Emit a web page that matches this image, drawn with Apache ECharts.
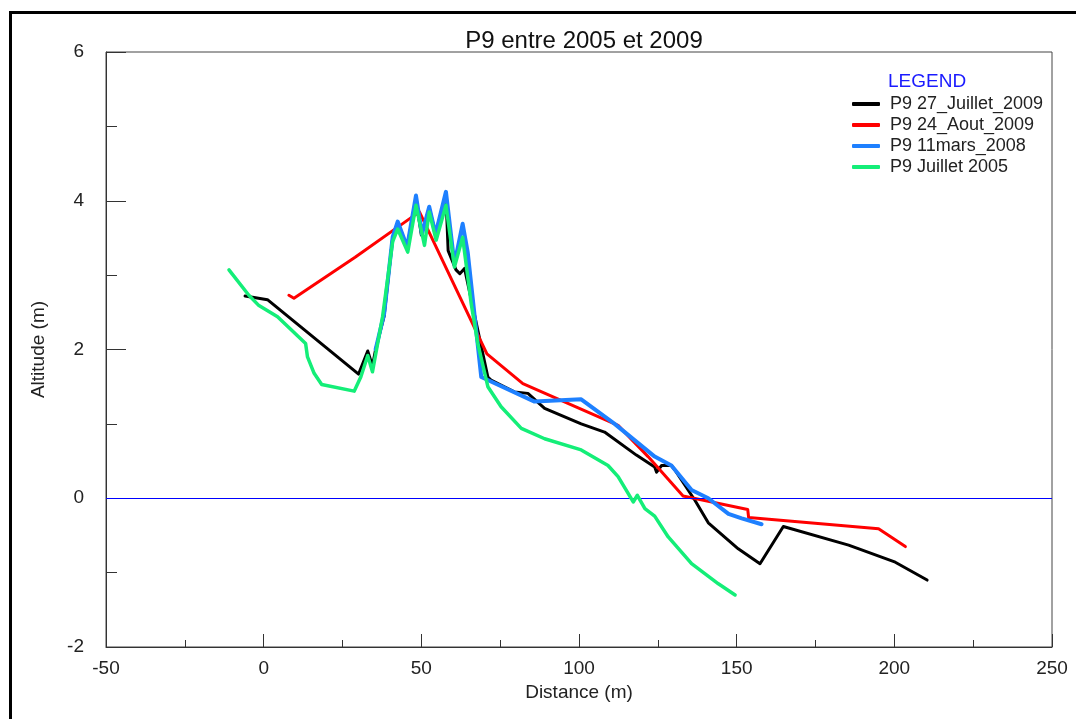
<!DOCTYPE html>
<html><head><meta charset="utf-8">
<script src="https://cdn.jsdelivr.net/npm/echarts@6/dist/echarts.min.js"></script>
<style>html,body{margin:0;padding:0;background:#fff}#c{width:1076px;height:719px}</style>
</head><body><div id="c"></div>
<script>
const seriesNames = ['P9 27_Juillet_2009', 'P9 24_Aout_2009', 'P9 11mars_2008', 'P9 Juillet 2005'];
const xTicks = [-50, 0, 50, 100, 150, 200, 250];
const yTicks = [-2, 0, 2, 4, 6];

const juillet2009 = [[-5.9,2.72],[1.2,2.67],[30.1,1.67],[33,1.98],[34.5,1.78],[35.5,2.0],[38.2,2.45],[40.9,3.5],[42.5,3.7],[45.5,3.38],[48.3,4.02],[50,3.54],[52.5,3.9],[54.5,3.56],[57.8,4.08],[58.5,3.33],[61,3.07],[62.2,3.02],[63.7,3.09],[71.1,1.63],[72.1,1.59],[79.5,1.43],[83.8,1.41],[89.1,1.21],[100.7,1.0],[108.1,0.89],[118.2,0.58],[124,0.42],[124.6,0.35],[126.2,0.44],[129.3,0.44],[130.4,0.38],[136.8,-0.03],[141,-0.33],[150.5,-0.68],[157.4,-0.88],[164.8,-0.38],[185.5,-0.63],[200.3,-0.86],[210.4,-1.1]];
const aout2009 = [[8,2.73],[9.6,2.69],[29,3.24],[47,3.78],[49.4,3.85],[70.8,1.94],[82.2,1.54],[112.4,0.98],[121.9,0.56],[133,0.03],[153.5,-0.15],[153.8,-0.26],[195,-0.41],[203.5,-0.65]];
const mars2008 = [[35.5,2.0],[38.2,2.48],[40.9,3.51],[42.5,3.72],[45.5,3.38],[48.3,4.07],[50.2,3.55],[52.5,3.92],[54.5,3.55],[57.8,4.12],[60.5,3.15],[63.1,3.69],[64.7,3.31],[69,1.63],[85.9,1.30],[100.7,1.33],[111.3,1.00],[124,0.56],[129.3,0.44],[135.7,0.11],[141,0.0],[147.4,-0.21],[151.6,-0.27],[157.9,-0.35]];
const juillet2005 = [[-11,3.07],[-4.7,2.73],[-1.5,2.59],[4.4,2.44],[13.3,2.08],[13.9,1.9],[16,1.68],[18.4,1.53],[28.7,1.44],[30.8,1.63],[33,1.92],[34.5,1.70],[37.7,2.44],[40.9,3.45],[42.5,3.62],[45.7,3.31],[48.3,3.94],[51,3.40],[52.5,3.85],[54.7,3.47],[57.8,3.94],[60.5,3.11],[63.1,3.51],[65.8,2.62],[67.9,2.08],[71.1,1.5],[75.3,1.23],[81.7,0.94],[89.1,0.80],[100.7,0.65],[109.2,0.44],[112.4,0.29],[117.2,-0.05],[118.5,0.04],[120.9,-0.14],[124,-0.24],[128.3,-0.52],[135.7,-0.88],[144.2,-1.15],[149.5,-1.30]];

const colors = ['#000000', '#ff0000', '#1e80ff', '#14ee78'];
const widths = [3, 3, 4, 3.5];
const datasets = [juillet2009, aout2009, mars2008, juillet2005];
const FONT = '"Liberation Sans", Arial, sans-serif';

const chart = echarts.init(document.getElementById('c'), null, {renderer: 'canvas'});
const series = datasets.map((d, i) => ({
  name: seriesNames[i], type: 'line', data: d, showSymbol: false, symbol: 'none',
  lineStyle: {color: colors[i], width: widths[i], join: 'round', cap: 'round'},
  itemStyle: {color: colors[i]}, z: 3 + i, animation: false
}));
series[0].markLine = {silent: true, symbol: 'none', label: {show: false}, animation: false,
  lineStyle: {color: '#0000ff', width: 1, type: 'solid'}, data: [{yAxis: 0}]};

chart.setOption({
  animation: false,
  backgroundColor: '#fff',
  title: {text: 'P9 entre 2005 et 2009', left: 579, top: 24, textAlign: 'center',
    textStyle: {fontFamily: FONT, fontSize: 24, fontWeight: 'normal', color: '#111'}},
  grid: {left: 106, right: 24, top: 52, bottom: 72, show: true, borderColor: '#444', borderWidth: 1, backgroundColor: 'transparent'},
  legend: {orient: 'vertical', left: 852, top: 95, itemWidth: 28, itemHeight: 4, itemGap: 3,
    icon: 'roundRect', data: seriesNames, padding: 0,
    textStyle: {fontFamily: FONT, fontSize: 18, color: '#222', lineHeight: 18, padding: [0, 0, 0, 5]}},
  graphic: [
    {type: 'text', left: 888, top: 72, style: {text: 'LEGEND', fill: '#1a1aff', font: '19px ' + FONT}},
    {type: 'rect', shape: {x: 10.5, y: 12.5, width: 1200, height: 900}, style: {fill: 'none', stroke: '#000', lineWidth: 3}, silent: true}
  ],
  xAxis: {type: 'value', min: xTicks[0], max: xTicks[xTicks.length - 1], interval: 50,
    name: 'Distance (m)', nameLocation: 'middle', nameGap: 35,
    nameTextStyle: {fontFamily: FONT, fontSize: 19, color: '#222'},
    axisLine: {onZero: false, lineStyle: {color: '#333', width: 1}},
    axisTick: {inside: true, length: 13, lineStyle: {color: '#333'}},
    minorTick: {show: true, splitNumber: 2, length: 7, lineStyle: {color: '#333'}},
    splitLine: {show: false},
    axisLabel: {margin: 12, fontFamily: FONT, fontSize: 19, color: '#222'}},
  yAxis: {type: 'value', min: yTicks[0], max: yTicks[yTicks.length - 1], interval: 2,
    name: 'Altitude (m)', nameLocation: 'middle', nameGap: 58, nameRotate: 90,
    nameTextStyle: {fontFamily: FONT, fontSize: 19, color: '#222'},
    axisLine: {show: true, onZero: false, lineStyle: {color: '#333', width: 1}},
    axisTick: {show: true, inside: true, length: 20, lineStyle: {color: '#333'}},
    minorTick: {show: true, splitNumber: 2, length: 11, lineStyle: {color: '#333'}},
    splitLine: {show: false},
    axisLabel: {margin: 22, fontFamily: FONT, fontSize: 19, color: '#222'}},
  series: series
});
</script></body></html>
